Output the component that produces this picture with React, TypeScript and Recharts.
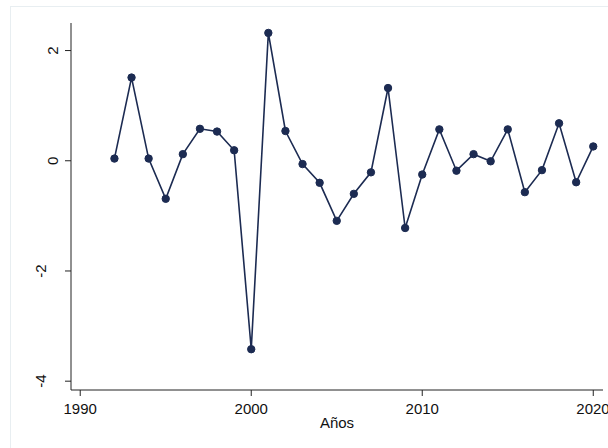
import { LineChart, Line, XAxis, YAxis } from "recharts";

const years = [
    1992, 1993, 1994, 1995, 1996, 1997, 1998, 1999, 2000, 2001, 2002, 2003,
    2004, 2005, 2006, 2007, 2008, 2009, 2010, 2011, 2012, 2013, 2014, 2015,
    2016, 2017, 2018, 2019, 2020,
];
const values = [
    0.04, 1.51, 0.04, -0.69, 0.12, 0.58, 0.53, 0.19, -3.42, 2.32, 0.54, -0.06,
    -0.4, -1.09, -0.6, -0.21, 1.32, -1.22, -0.25, 0.57, -0.18, 0.12, -0.01,
    0.57, -0.57, -0.17, 0.68, -0.39, 0.26,
];
const xTicks = [1990, 2000, 2010, 2020];
const yTicks = [-4, -2, 0, 2];

const data = years.map((year, i) => ({ year, value: values[i] }));

const NAVY = "#1c2b52";
const FONT = "'Liberation Sans', Arial, sans-serif";

// rotated y labels, Stata style
const YTick = ({ x, y, payload }: any) => {
    const bx = payload.value < 0 ? x - 18.5 : x - 7;
    return (
        <text
            x={bx}
            y={y}
            transform={`rotate(-90, ${bx}, ${y})`}
            textAnchor="middle"
            fontSize={15}
            fontFamily={FONT}
            fill="#111"
        >
            {payload.value}
        </text>
    );
};

export default function App() {
    return (
        <div
            style={{
                position: "absolute",
                left: 0,
                top: 0,
                width: 608,
                height: 448,
                overflow: "hidden",
                background: "#fff",
            }}
        >
            <div
                style={{
                    position: "absolute",
                    left: 10,
                    top: 6,
                    width: 640,
                    height: 480,
                    border: "1px solid #e8eef1",
                }}
            />
            <div style={{ position: "absolute", left: 0, top: 0 }}>
                <LineChart
                    width={608}
                    height={448}
                    data={data}
                    margin={{ top: 23, right: 5, left: 0, bottom: 0 }}
                >
                    <XAxis
                        dataKey="year"
                        type="number"
                        domain={[1989.46, 2020.57]}
                        ticks={xTicks}
                        allowDataOverflow
                        height={58}
                        tickSize={6}
                        tickMargin={7}
                        stroke="#222"
                        tick={{ fill: "#111", fontSize: 15, fontFamily: FONT }}
                        label={{
                            value: "Años",
                            position: "insideBottom",
                            offset: 20,
                            fill: "#111",
                            fontSize: 15,
                            fontFamily: FONT,
                        }}
                    />
                    <YAxis
                        type="number"
                        domain={[-4.16, 2.5]}
                        ticks={yTicks}
                        allowDataOverflow
                        width={71}
                        tickSize={6}
                        tickMargin={0}
                        stroke="#222"
                        tick={<YTick />}
                    />
                    <Line
                        type="linear"
                        dataKey="value"
                        stroke={NAVY}
                        strokeWidth={1.6}
                        dot={{ r: 3.7, fill: NAVY, stroke: NAVY, strokeWidth: 1 }}
                        isAnimationActive={false}
                    />
                </LineChart>
            </div>
        </div>
    );
}
